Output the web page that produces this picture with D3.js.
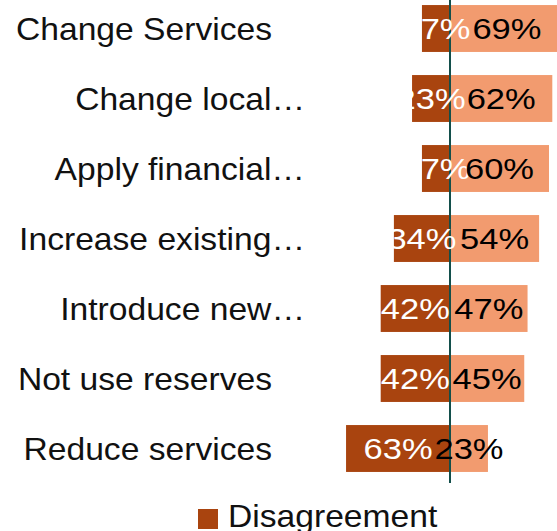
<!DOCTYPE html>
<html>
<head>
<meta charset="utf-8">
<script src="https://cdn.jsdelivr.net/npm/d3@7"></script>
<style>
  html, body { margin: 0; padding: 0; background: #fff; }
  svg { display: block; }
  text { font-family: "Liberation Sans", Arial, Helvetica, sans-serif; }
</style>
</head>
<body>
<svg id="chart" width="557" height="531"></svg>
<script>
const categories = ["Change Services", "Change local…", "Apply financial…", "Increase existing…", "Introduce new…", "Not use reserves", "Reduce services"];
const disagreement = [17, 23, 17, 34, 42, 42, 63];
const agreement = [69, 62, 60, 54, 47, 45, 23];
const seriesNames = ["Disagreement", "Agreement"];
const colors = { Disagreement: "#A9440F", Agreement: "#F29B6F" };

const svg = d3.select("#chart");
const cx = 450;

const x = d3.scaleLinear().domain([-100, 100]).range([cx - 165, cx + 165]);
const y = d3.scaleBand().domain(categories).range([-6.5, 483.5]).paddingInner(0.33).paddingOuter(0.165);

const rows = categories.map((c, i) => ({ cat: c, dis: disagreement[i], agr: agreement[i] }));

function placeText(sel, fx, fy, sx) {
  sel.attr("transform", (d, i) => `translate(${fx(d, i)},${fy(d, i)}) scale(${sx},1)`);
}

// bars
svg.append("g").selectAll("rect").data(rows).join("rect")
  .attr("x", d => x(-d.dis)).attr("width", d => x(0) - x(-d.dis))
  .attr("y", d => y(d.cat)).attr("height", y.bandwidth())
  .attr("fill", colors.Disagreement);
svg.append("g").selectAll("rect").data(rows).join("rect")
  .attr("x", x(0)).attr("width", d => x(d.agr) - x(0))
  .attr("y", d => y(d.cat)).attr("height", y.bandwidth())
  .attr("fill", colors.Agreement);

// center line
svg.append("line").attr("x1", x(0)).attr("x2", x(0)).attr("y1", 0).attr("y2", 483)
  .attr("stroke", "#134F4B").attr("stroke-width", 2);

// value labels
const fsNum = 29, sxNum = 1.19;
svg.append("g").selectAll("text").data(rows).join("text")
  .text(d => d.dis + "%").attr("text-anchor", "middle").attr("font-size", fsNum)
  .attr("fill", "#fff")
  .call(placeText, d => (x(-d.dis) + x(0)) / 2, d => y(d.cat) + y.bandwidth() / 2 + fsNum * 0.36, sxNum);
svg.append("g").selectAll("text").data(rows).join("text")
  .text(d => d.agr + "%").attr("text-anchor", "middle").attr("font-size", fsNum)
  .attr("fill", "#000")
  .call(placeText, d => (x(d.agr) + x(0)) / 2, d => y(d.cat) + y.bandwidth() / 2 + fsNum * 0.36, sxNum);

// category labels
const fsCat = 31, sxCat = 1.085;
svg.append("g").selectAll("text").data(rows).join("text")
  .text(d => d.cat).attr("text-anchor", "end").attr("font-size", fsCat).attr("fill", "#111")
  .call(placeText, d => d.cat.endsWith("…") ? 305 : 272, d => y(d.cat) + y.bandwidth() / 2 + fsCat * 0.36, sxCat);

// legend
const lg = svg.append("g");
lg.append("rect").attr("x", 198).attr("y", 509).attr("width", 20).attr("height", 20).attr("fill", colors.Disagreement);
lg.append("text").text(seriesNames[0]).attr("font-size", fsCat).attr("fill", "#111")
  .attr("transform", `translate(228,${505 + fsCat * 0.72}) scale(${sxCat},1)`);
</script>
</body>
</html>
